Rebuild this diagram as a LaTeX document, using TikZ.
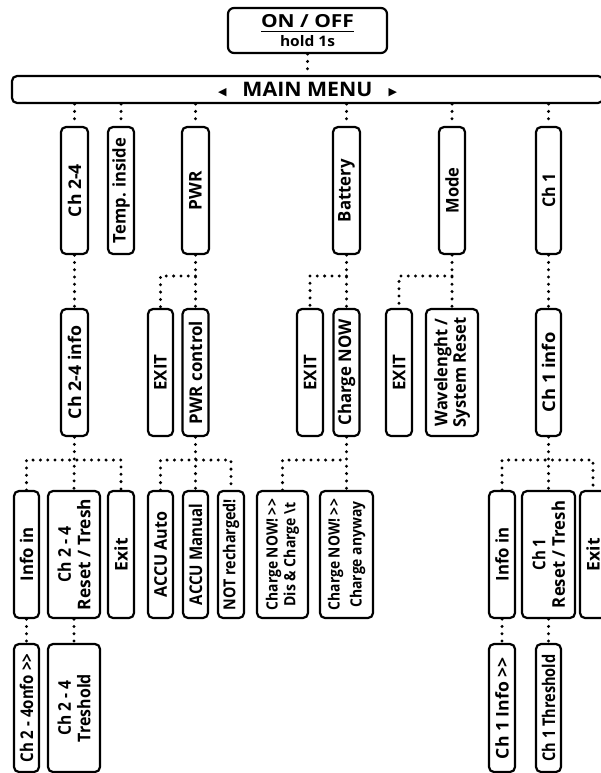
\documentclass[tikz,border=0pt]{standalone}
\usepackage{fontspec}
\setmainfont{Open Sans}
\newfontfamily\dejavu{DejaVu Sans}
\newcommand{\thickul}[1]{\setbox0=\hbox{#1}\rlap{\copy0}\raisebox{-5pt}{\rule{\wd0}{1.5pt}}}
\newcommand{\gtgt}{>\kern0.3pt>}
\newcommand{\tw}[2]{\resizebox{#1pt}{\height}{#2}}
\tikzset{
  menubox/.style={draw, line width=2.2pt, rounded corners=5pt, fill=white, inner sep=0pt,
    rotate=90, font=\bfseries\fontsize{17.5}{19.5}\selectfont, align=center, minimum width=127pt},
  wd/.style={minimum height=#1},
  dots/.style={line width=3.3pt, line cap=round, dash pattern=on 0pt off 7.3pt},
}
\begin{document}
\begin{tikzpicture}[x=1pt,y=1pt]
\useasboundingbox (0,0) rectangle (601,-773);
\fill[white] (0,0) rectangle (601,-773);
\clip (0,0) rectangle (601,-773);

% top
\node[draw, line width=2.2pt, rounded corners=6pt, fill=white, inner sep=0pt,
  minimum width=159pt, minimum height=45pt, align=center] (onoff) at (307.5,-30.5)
  {{\fontsize{18}{18}\selectfont\bfseries\thickul{\tw{93}{ON / OFF}}}\\[2pt]
   {\fontsize{14.5}{16}\selectfont\bfseries \tw{55}{hold 1s}}};
\node[draw, line width=2.2pt, rounded corners=5pt, fill=white, inner sep=0pt,
  minimum width=591pt, minimum height=27pt] (mm) at (307.5,-89.5)
  {{\dejavu\fontsize{11}{11}\selectfont\raisebox{1pt}{◀}}\hspace{16pt}{\fontsize{20}{20}\selectfont\bfseries \tw{130}{MAIN MENU}}\hspace{16pt}{\dejavu\fontsize{11}{11}\selectfont\raisebox{1pt}{▶}}};

% level 1
\node[menubox, wd=27pt] (ch24) at (74.5,-190.5) {\tw{53}{Ch 2-4}};
\node[menubox, wd=26pt] (temp) at (121,-190.5) {\tw{105}{Temp. inside}};
\node[menubox, wd=27pt] (pwr) at (195.5,-190.5) {\tw{39}{PWR}};
\node[menubox, wd=27pt] (batt) at (346.5,-190.5) {\tw{63}{Battery}};
\node[menubox, wd=26pt] (mode) at (452,-190.5) {\tw{46}{Mode}};
\node[menubox, wd=25pt] (ch1) at (548.5,-190.5) {\tw{34}{Ch 1}};

% level 2
\node[menubox, wd=27pt] (ch24info) at (74.5,-372.5) {\tw{93}{Ch 2-4 info}};
\node[menubox, wd=25pt] (pexit) at (160.5,-372.5) {\tw{36}{EXIT}};
\node[menubox, wd=26pt] (pctrl) at (195.5,-372.5) {\tw{103}{PWR control}};
\node[menubox, wd=26pt] (bexit) at (310,-372.5) {\tw{36}{EXIT}};
\node[menubox, wd=26pt] (bnow) at (346.5,-372.5) {\tw{106}{Charge NOW}};
\node[menubox, wd=26pt] (mexit) at (399,-372.5) {\tw{36}{EXIT}};
\node[menubox, wd=52pt, font=\bfseries\fontsize{17.5}{18.5}\selectfont] (mwave) at (452,-372.5) {\tw{108}{Wavelenght /}\\\tw{110}{System Reset}};
\node[menubox, wd=25pt] (ch1info) at (548.5,-372.5) {\tw{80}{Ch 1 info}};

% level 3
\node[menubox, wd=25pt] (info24) at (26.5,-554.5) {\tw{54}{Info in}};
\node[menubox, wd=52pt] (reset24) at (74,-554.5) {\tw{56}{Ch 2 - 4}\\\tw{111}{Reset / Tresh}};
\node[menubox, wd=26pt] (exit24) at (121,-554.5) {\tw{33}{Exit}};
\node[menubox, wd=25pt] (accuauto) at (160.5,-554.5) {\tw{86}{ACCU Auto}};
\node[menubox, wd=25pt] (accuman) at (195.5,-554.5) {\tw{101}{ACCU Manual}};
\node[menubox, wd=26pt, font=\bfseries\fontsize{16.5}{19}\selectfont] (notrech) at (231,-554.5) {\tw{111}{NOT recharged!}};
\node[menubox, wd=51pt, font=\bfseries\fontsize{15.5}{17.7}\selectfont] (chdis) at (282.5,-554.5) {\tw{111}{Charge NOW! \gtgt}\\\tw{104}{Dis \& Charge \textbackslash t}};
\node[menubox, wd=53pt, font=\bfseries\fontsize{15.5}{22}\selectfont] (chany) at (346.5,-554.5) {\tw{111}{Charge NOW! \gtgt}\\\tw{106}{Charge anyway}};
\node[menubox, wd=26pt] (info1) at (502,-554.5) {\tw{54}{Info in}};
\node[menubox, wd=53pt] (reset1) at (548.5,-554.5) {\tw{32}{Ch 1}\\\tw{107}{Reset / Tresh}};
\node[menubox, wd=26pt] (exit1) at (593,-554.5) {\tw{33}{Exit}};

% level 4
\node[menubox, wd=25pt, minimum width=128pt] (onfo24) at (26.5,-708) {\tw{109}{Ch 2 - 4onfo \gtgt}};
\node[menubox, wd=52pt, minimum width=128pt] (tresh24) at (74,-708) {\tw{55}{Ch 2 - 4}\\\tw{68}{Treshold}};
\node[menubox, wd=26pt, minimum width=128pt] (info1b) at (502,-708) {\tw{102}{Ch 1 Info \gtgt}};
\node[menubox, wd=25pt, minimum width=128pt] (thresh1) at (548.5,-708) {\tw{107}{Ch 1 Threshold}};

% connectors
\draw[dots] (onoff.south) -- (onoff.south |- mm.north);
\foreach \n in {ch24,temp,pwr,batt,mode,ch1}
  \draw[dots] (\n.east |- mm.south) -- (\n.east);
\draw[dots] (ch24.west) -- (ch24info.east);
\draw[dots] (pwr.west) -- (pctrl.east);
\draw[dots] (pwr.west |- 0,-276) -| (pexit.east);
\draw[dots] (batt.west) -- (bnow.east);
\draw[dots] (batt.west |- 0,-276) -| (bexit.east);
\draw[dots] (mode.west) -- (mwave.east);
\draw[dots] (mode.west |- 0,-276) -| (mexit.east);
\draw[dots] (ch1.west) -- (ch1info.east);

\draw[dots] (ch24info.west) -- (reset24.east);
\draw[dots] (info24.east) |- (exit24.east |- 0,-460) -- (exit24.east);
\draw[dots] (pctrl.west) -- (accuman.east);
\draw[dots] (accuauto.east) |- (notrech.east |- 0,-460) -- (notrech.east);
\draw[dots] (bnow.west) -- (chany.east);
\draw[dots] (chdis.east) |- (chany.east |- 0,-460);
\draw[dots] (ch1info.west) -- (reset1.east);
\draw[dots] (info1.east) |- (exit1.east |- 0,-460) -- (exit1.east);

\draw[dots] (info24.west) -- (onfo24.east);
\draw[dots] (reset24.west) -- (tresh24.east);
\draw[dots] (info1.west) -- (info1b.east);
\draw[dots] (reset1.west) -- (thresh1.east);
\end{tikzpicture}
\end{document}
